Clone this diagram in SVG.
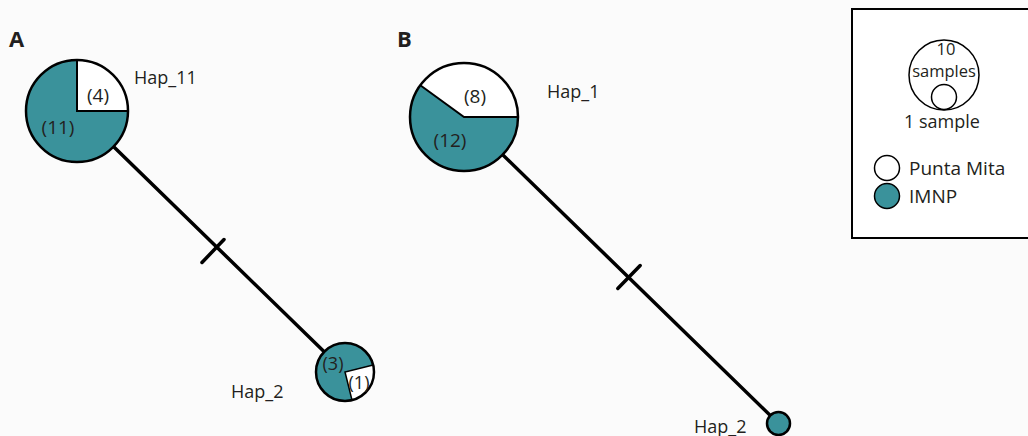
<svg xmlns="http://www.w3.org/2000/svg" width="1028" height="436" viewBox="0 0 1028 436">
<style>
text{font-family:"Open Sans","Liberation Sans",sans-serif;fill:#231f20}
.lbl{font-size:18px}
.leg{font-size:19px}
.num{font-size:19px}
.sm{font-size:18px}
.tiny{font-size:16.5px}
.pan{font-size:22px;font-weight:bold}
.teal{fill:#3a929b}
.wht{fill:#ffffff}
.ring{fill:none;stroke:#000;stroke-width:2.5}
.edge{stroke:#000;stroke-width:3.5;stroke-linecap:round}
</style>
<rect width="1028" height="436" fill="#fbfbfb"/>
<text class="pan" x="9" y="47">A</text>
<text class="pan" x="397" y="47">B</text>
<g id="connectors">
<line class="edge" x1="77" y1="111" x2="345" y2="372"/>
<line class="edge" x1="202" y1="262.5" x2="224" y2="239.5"/>
<line class="edge" x1="464" y1="117" x2="778" y2="423"/>
<line class="edge" x1="617.8" y1="288.5" x2="640.2" y2="265.5"/>
</g>
<g id="hapA11">
<path class="wht" d="M77,111 L77,60 A51,51 0 0,1 128,111 Z"/>
<path class="teal" d="M77,111 L128,111 A51,51 0 1,1 77,60 Z"/>
<path d="M77,60 L77,111 L128,111" fill="none" stroke="#000" stroke-width="2"/>
<circle class="ring" cx="77" cy="111" r="51"/>
<text class="num" x="98" y="102" text-anchor="middle">(4)</text>
<text class="num" x="58" y="134" text-anchor="middle">(11)</text>
<text class="lbl" x="134" y="84">Hap_11</text>
</g>
<g id="hapA2">
<path class="wht" d="M345,372 L373.1,365 A29,29 0 0,1 352,400.1 Z"/>
<path class="teal" d="M345,372 L352,400.1 A29,29 0 1,1 373.1,365 Z"/>
<path d="M373.1,365 L345,372 L352,400.1" fill="none" stroke="#000" stroke-width="1.5"/>
<circle class="ring" cx="345" cy="372" r="29"/>
<text class="sm" x="333" y="370" text-anchor="middle">(3)</text>
<text class="sm" x="359" y="389" text-anchor="middle">(1)</text>
<text class="lbl" x="231" y="398">Hap_2</text>
</g>
<g id="hapB1">
<path class="wht" d="M464,117 L420.3,85.3 A54,54 0 0,1 518,117 Z"/>
<path class="teal" d="M464,117 L518,117 A54,54 0 1,1 420.3,85.3 Z"/>
<path d="M420.3,85.3 L464,117 L518,117" fill="none" stroke="#000" stroke-width="2"/>
<circle class="ring" cx="464" cy="117" r="54"/>
<text class="num" x="475" y="103" text-anchor="middle">(8)</text>
<text class="num" x="450" y="147" text-anchor="middle">(12)</text>
<text class="lbl" x="547" y="98">Hap_1</text>
</g>
<g id="hapB2">
<circle class="teal" cx="778.5" cy="423.5" r="11.5"/>
<circle class="ring" cx="778.5" cy="423.5" r="11.5"/>
<text class="lbl" x="694" y="433">Hap_2</text>
</g>
<g id="legend">
<rect x="852" y="9" width="190" height="229" fill="#fff" stroke="#000" stroke-width="2"/>
<circle cx="944" cy="75" r="35" fill="none" stroke="#000" stroke-width="1.5"/>
<circle cx="944" cy="97" r="12.5" fill="none" stroke="#000" stroke-width="1.5"/>
<text class="tiny" x="946" y="55" text-anchor="middle">10</text>
<text class="tiny" x="944" y="77" text-anchor="middle">samples</text>
<text class="lbl" x="942" y="128" text-anchor="middle">1 sample</text>
<circle cx="887" cy="168" r="12.5" fill="#fff" stroke="#000" stroke-width="1.5"/>
<text class="leg" x="909" y="175">Punta Mita</text>
<circle class="teal" cx="887" cy="196" r="12.5" stroke="#000" stroke-width="1.5"/>
<text class="leg" x="909" y="203">IMNP</text>
</g>
</svg>
